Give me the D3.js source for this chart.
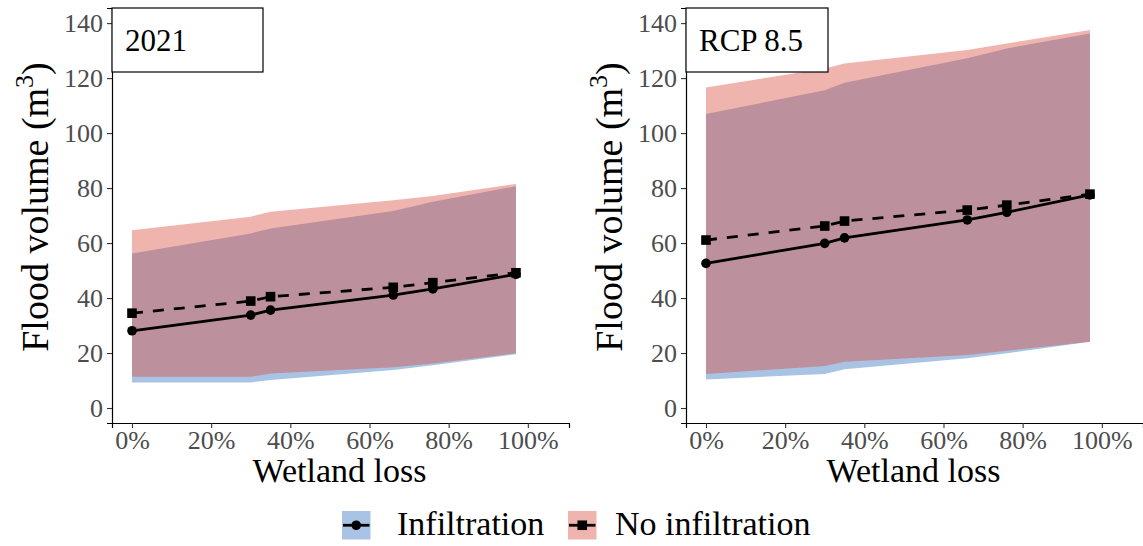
<!DOCTYPE html>
<html>
<head>
<meta charset="utf-8">
<script src="https://cdn.jsdelivr.net/npm/d3@7"></script>
<style>
  body { margin: 0; background: #fff; }
  svg { display: block; }
</style>
</head>
<body>
<svg width="1143" height="546"></svg>
<script>
// wetland loss (%) of each scenario
const lossPct = [0, 30, 35, 66, 76, 97];
const xTicks = [0, 20, 40, 60, 80, 100];
const yTicks = [0, 20, 40, 60, 80, 100, 120, 140];

// 2021
const infil2021 = [28.1, 33.8, 35.6, 41.1, 43.3, 48.6];
const noInfil2021 = [34.5, 38.9, 40.5, 43.9, 45.6, 49.2];
const infilLow2021 = [9.3, 9.3, 10.2, 13.8, 15.6, 19.6];
const infilHigh2021 = [56.2, 63.5, 65.3, 71.7, 75.0, 80.7];
const noInfilLow2021 = [11.4, 11.4, 12.6, 14.8, 16.2, 19.9];
const noInfilHigh2021 = [64.7, 69.6, 71.4, 75.6, 77.1, 81.5];

// RCP 8.5
const infilRcp = [52.6, 59.9, 61.9, 68.4, 71.2, 77.5];
const noInfilRcp = [61.1, 66.2, 68.0, 72.0, 73.8, 77.8];
const infilLowRcp = [10.4, 12.4, 14.1, 18.1, 19.9, 24.1];
const infilHighRcp = [106.9, 115.6, 118.3, 127.2, 130.8, 136.2];
const noInfilLowRcp = [12.4, 15.3, 16.8, 19.3, 20.8, 24.1];
const noInfilHighRcp = [116.6, 123.5, 125.3, 130.2, 132.6, 137.5];

const panels = [
  { label: "2021", left: 112, infil: infil2021, noInfil: noInfil2021,
    infilLow: infilLow2021, infilHigh: infilHigh2021, noLow: noInfilLow2021, noHigh: noInfilHigh2021 },
  { label: "RCP 8.5", left: 686, infil: infilRcp, noInfil: noInfilRcp,
    infilLow: infilLowRcp, infilHigh: infilHighRcp, noLow: noInfilLowRcp, noHigh: noInfilHighRcp }
];

const blueFill = "rgb(37,105,185)";
const redFill = "rgb(217,67,52)";
const fillAlpha = 0.4;
const tickGrey = "#4d4d4d";
const serifFont = "'Liberation Serif'";

const svg = d3.select("svg");
const panelW = 457;
const plotTop = 8, plotBottom = 423;

const y = d3.scaleLinear().domain([-5.45, 145.5]).range([plotBottom, plotTop]);

function addText(sel, size) {
  return sel.append("text").style("font-family", serifFont).style("font-size", size + "px");
}

panels.forEach((p) => {
  const x = d3.scaleLinear().domain([-5.05, 110.4]).range([p.left, p.left + panelW]);
  const g = svg.append("g");

  const rows = lossPct.map((v, i) => ({
    x: v, infil: p.infil[i], noInfil: p.noInfil[i],
    iLo: p.infilLow[i], iHi: p.infilHigh[i], nLo: p.noLow[i], nHi: p.noHigh[i]
  }));

  g.append("path").datum(rows)
    .attr("fill", blueFill).attr("fill-opacity", fillAlpha)
    .attr("d", d3.area().x((d) => x(d.x)).y0((d) => y(d.iLo)).y1((d) => y(d.iHi)));
  g.append("path").datum(rows)
    .attr("fill", redFill).attr("fill-opacity", fillAlpha)
    .attr("d", d3.area().x((d) => x(d.x)).y0((d) => y(d.nLo)).y1((d) => y(d.nHi)));

  g.append("path").datum(rows)
    .attr("fill", "none").attr("stroke", "#000").attr("stroke-width", 2.8)
    .attr("d", d3.line().x((d) => x(d.x)).y((d) => y(d.infil)));
  g.append("path").datum(rows)
    .attr("fill", "none").attr("stroke", "#000").attr("stroke-width", 2.8)
    .attr("stroke-dasharray", "11,10")
    .attr("d", d3.line().x((d) => x(d.x)).y((d) => y(d.noInfil)));

  g.selectAll(".pt").data(rows).join("circle")
    .attr("cx", (d) => x(d.x)).attr("cy", (d) => y(d.infil)).attr("r", 4.8).attr("fill", "#000");
  g.selectAll(".sq").data(rows).join("rect")
    .attr("x", (d) => x(d.x) - 4.8).attr("y", (d) => y(d.noInfil) - 4.8)
    .attr("width", 9.6).attr("height", 9.6).attr("fill", "#000");

  // axes
  const xAxis = g.append("g")
    .attr("transform", "translate(0," + plotBottom + ")")
    .call(d3.axisBottom(x).tickValues(xTicks).tickSize(5).tickPadding(3).tickFormat((d) => d + "%"));
  const yAxis = g.append("g")
    .attr("transform", "translate(" + p.left + ",0)")
    .call(d3.axisLeft(y).tickValues(yTicks).tickSize(5).tickPadding(4));
  [xAxis, yAxis].forEach((a) => {
    a.attr("font-family", null).attr("font-size", null);
    a.select(".domain").attr("stroke", "#000").attr("stroke-width", 1.2);
    a.selectAll(".tick line").attr("stroke", "#333").attr("stroke-width", 1.1);
    a.selectAll(".tick text").attr("fill", tickGrey)
      .style("font-family", serifFont).style("font-size", "26px");
  });
  xAxis.selectAll(".tick text").attr("dy", "0.68em");
  yAxis.selectAll(".tick text").attr("dy", "0.34em");

  addText(g, 34)
    .attr("x", p.left + panelW / 2 - 1).attr("y", 482)
    .attr("text-anchor", "middle").text("Wetland loss");

  const yt = addText(g, 38)
    .attr("transform", "translate(" + (p.left - 64) + "," + 207 + ") rotate(-90)")
    .attr("text-anchor", "middle");
  yt.append("tspan").text("Flood volume (m");
  yt.append("tspan").attr("dy", -15).style("font-size", "26px").text("3");
  yt.append("tspan").attr("dy", 15).text(")");

  // panel label box
  g.append("rect")
    .attr("x", p.left).attr("y", plotTop).attr("width", p.label === "2021" ? 151 : 142).attr("height", 64)
    .attr("fill", "#fff").attr("stroke", "#000").attr("stroke-width", 1.2);
  addText(g, 31)
    .attr("x", p.left + 13).attr("y", 51)
    .text(p.label);
});

// legend
const legendItems = [
  { name: "Infiltration", fill: blueFill, shape: "circle", kx: 342, tx: 397 },
  { name: "No infiltration", fill: redFill, shape: "square", kx: 568, tx: 615 }
];
const lg = svg.append("g");
legendItems.forEach((it) => {
  lg.append("rect").attr("x", it.kx).attr("y", 511).attr("width", 28.5).attr("height", 28.5)
    .attr("fill", "#fff");
  lg.append("rect").attr("x", it.kx).attr("y", 511).attr("width", 28.5).attr("height", 28.5)
    .attr("fill", it.fill).attr("fill-opacity", fillAlpha);
  lg.append("line").attr("x1", it.kx + 1).attr("x2", it.kx + 27.5)
    .attr("y1", 525.25).attr("y2", 525.25).attr("stroke", "#000").attr("stroke-width", 2.8);
  if (it.shape === "circle") {
    lg.append("circle").attr("cx", it.kx + 14.25).attr("cy", 525.25).attr("r", 4.8).attr("fill", "#000");
  } else {
    lg.append("rect").attr("x", it.kx + 9.45).attr("y", 520.45).attr("width", 9.6).attr("height", 9.6).attr("fill", "#000");
  }
  addText(lg, 34).attr("x", it.tx).attr("y", 535).text(it.name);
});
</script>
</body>
</html>
